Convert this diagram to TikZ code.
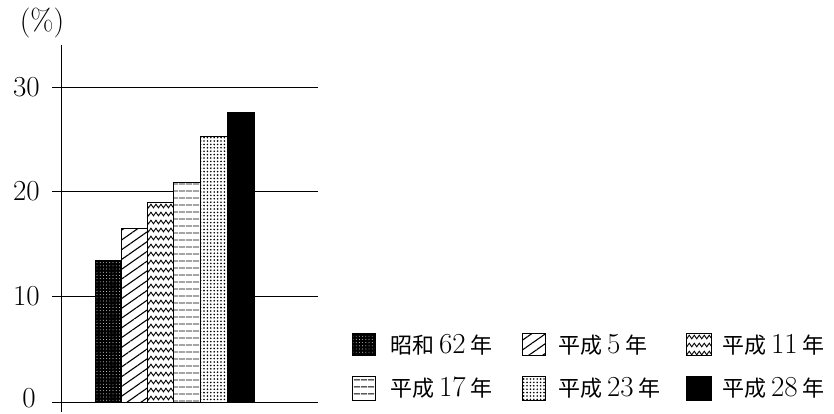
\documentclass[tikz,border=0pt]{standalone}
\usepackage{fontspec}
\newfontfamily\cjk{Noto Sans CJK JP}
\usetikzlibrary{patterns,patterns.meta,decorations.pathmorphing}
\newcommand\jp[1]{{\cjk\fontsize{22}{22}\selectfont #1}}
\tikzset{
  grid line/.style={line width=0.9pt},
  axis label/.style={anchor=east,font=\fontsize{29}{29}\selectfont,inner sep=0pt},
  legend text/.style={anchor=west,inner sep=0pt,font=\fontsize{29}{29}\selectfont},
  barbox/.style={draw=black,line width=1pt},
  speck/.style={preaction={fill=black},pattern={Dots[distance=3.2pt,radius=0.45pt,xshift=1pt]},pattern color=white},
  diag/.style={pattern={Lines[angle=35,distance=8pt,line width=1.1pt]},pattern color=black},
  hlines/.style={pattern={Lines[angle=0,distance=6.5pt,line width=1pt]},pattern color=black},
  dotgrid/.style={pattern={Dots[distance=3.4pt,radius=0.9pt]},pattern color=black},
  solidbar/.style={fill=black},
}
\newcommand\myzig[4]{%
  \begin{scope}
    \clip (#1,#2) rectangle (#3,#4);
    \foreach \yy in {0,8,...,300}{
      \draw[line width=0.9pt,decorate,decoration={zigzag,segment length=5pt,amplitude=1.8pt}]
        (#1-3,#2+4+\yy) -- (#3+3,#2+4+\yy);
    }
  \end{scope}}
\begin{document}
\begin{tikzpicture}[x=1pt,y=-1pt]
\useasboundingbox (0,0) rectangle (834,413);
% grid lines
\draw[line width=1.3pt] (52,87.7) -- (318,87.7);
\draw[grid line] (52,191) -- (318,191);
\draw[grid line] (52,296) -- (318,296);
\draw[grid line] (52,402.7) -- (318,402.7);
% axis
\draw[line width=1pt] (61,45) -- (61,412);
% labels
\node[axis label] (l30) at (40,87) {30};
\node[axis label] (l20) at (40,191.5) {20};
\node[axis label] (l10) at (40,296.5) {10};
\node[axis label] (l0) at (36,398) {0};
\node[inner sep=0pt,font=\fontsize{30}{30}\selectfont] (pct) at (42,23) {(\%)};
% bars
\def\yb{402.7}
\path[fill=white] (95.7,\yb) rectangle (121.2,260);
\path[speck] (95.7,\yb) rectangle (121.2,260);
\draw[barbox] (95.7,\yb) rectangle (121.2,260);
\path[fill=white] (121.2,\yb) rectangle (147.7,228);
\path[diag] (121.2,\yb) rectangle (147.7,228);
\draw[barbox] (121.2,\yb) rectangle (147.7,228);
\path[fill=white] (147.7,\yb) rectangle (173.8,202);
\myzig{147.7}{202}{173.8}{\yb}
\draw[barbox] (147.7,\yb) rectangle (173.8,202);
\path[fill=white] (173.8,\yb) rectangle (200.8,182);
\path[hlines] (173.8,\yb) rectangle (200.8,182);
\draw[barbox] (173.8,\yb) rectangle (200.8,182);
\path[fill=white] (200.8,\yb) rectangle (227,136.7);
\path[dotgrid] (200.8,\yb) rectangle (227,136.7);
\draw[barbox] (200.8,\yb) rectangle (227,136.7);
\draw[barbox,solidbar] (227,\yb) rectangle (254.3,112.7);
% legend row 1
\draw[barbox,speck] (352,333) rectangle (375,355);
\node[legend text] (t1) at (390,345) {\jp{昭和}\,62\,\jp{年}};
\path[diag] (522,333) rectangle (545,355);
\draw[barbox] (522,333) rectangle (545,355);
\node[legend text] (t2) at (558,345) {\jp{平成}\,5\,\jp{年}};
\myzig{686}{333}{711}{355}
\draw[barbox] (686,333) rectangle (711,355);
\node[legend text] (t3) at (722,345) {\jp{平成}\,11\,\jp{年}};
% legend row 2
\path[hlines] (352,376) rectangle (375,400);
\draw[barbox] (352,376) rectangle (375,400);
\node[legend text] (t4) at (390,388) {\jp{平成}\,17\,\jp{年}};
\path[dotgrid] (522,376) rectangle (545,400);
\draw[barbox] (522,376) rectangle (545,400);
\node[legend text] (t5) at (558,388) {\jp{平成}\,23\,\jp{年}};
\draw[barbox,solidbar] (686,376) rectangle (711,400);
\node[legend text] (t6) at (722,388) {\jp{平成}\,28\,\jp{年}};
\end{tikzpicture}
\end{document}
